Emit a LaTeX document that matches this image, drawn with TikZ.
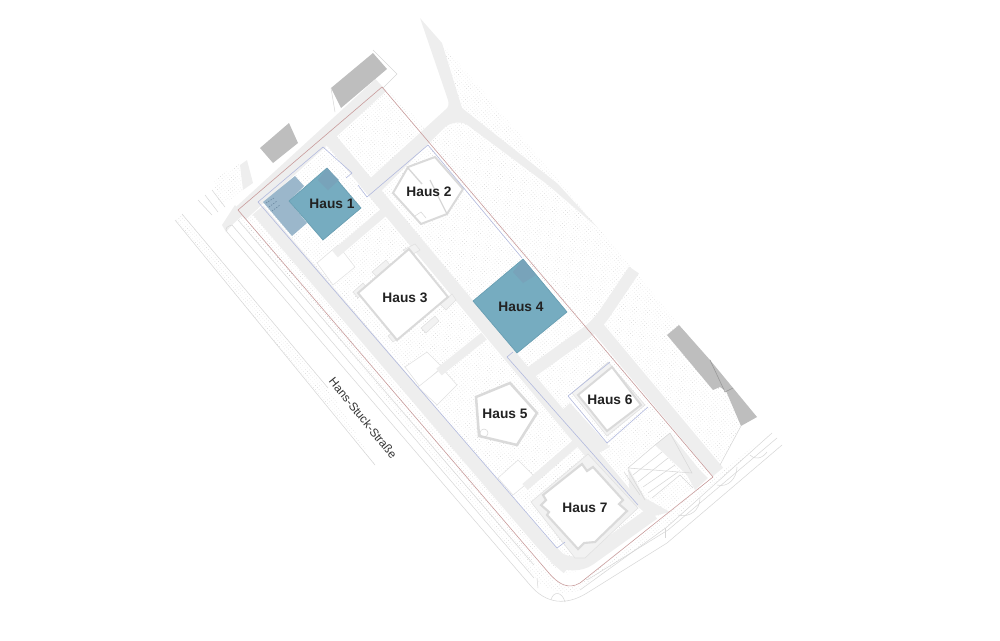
\documentclass[tikz,border=0pt]{standalone}
\usepackage{fontspec}
\setmainfont{Liberation Sans}
\usetikzlibrary{patterns.meta}
\tikzset{
  ground/.style={pattern={Dots[distance=2pt,radius=0.2pt,angle=40]},pattern color={rgb, 255:red, 185; green, 185; blue, 185 }},
  roadfill/.style={fill={rgb, 255:red, 238; green, 238; blue, 238 }},
  road/.style={draw={rgb, 255:red, 238; green, 238; blue, 238 }},
  thin line/.style={draw={rgb, 255:red, 215; green, 215; blue, 215 },line width=0.4pt},
  plot/.style={fill=white,draw={rgb, 255:red, 225; green, 225; blue, 225 },line width=0.4pt},
  red line/.style={draw={rgb, 255:red, 200; green, 155; blue, 155 },line width=0.45pt},
  blue line/.style={draw={rgb, 255:red, 178; green, 186; blue, 222 },line width=0.45pt},
  shed/.style={fill={rgb, 255:red, 190; green, 190; blue, 190 }},
  house/.style={fill=white,draw={rgb, 255:red, 218; green, 218; blue, 218 },line width=1.9pt},
  wing/.style={fill={rgb, 255:red, 242; green, 242; blue, 242 },draw={rgb, 255:red, 224; green, 224; blue, 224 },line width=0.4pt},
  teal/.style={fill={rgb, 255:red, 118; green, 172; blue, 192 },draw={rgb, 255:red, 104; green, 158; blue, 178 },line width=0.5pt},
  haus label/.style={font=\bfseries\fontsize{10.3pt}{12pt}\selectfont,text={rgb, 255:red, 34; green, 34; blue, 34 },inner sep=0.75pt},
}
\begin{document}
\begin{tikzpicture}[x=0.75pt,y=0.75pt,yscale=-1,xscale=1]
\useasboundingbox (0,0) rectangle (1000,640);

%Shape: site ground
\path [ground] (235,215) -- (384,87) -- (430,132) -- (450,107) -- (442,43) -- (598,228) -- (679,325) -- (757,417) -- (741,426) -- (720,465) -- (660,515) -- (570,575) -- (547,565) -- cycle;
\path [ground] (213,180) -- (240,163) -- (243,190) -- (220,207) -- cycle;
\path [ground] (175,220) -- (182,214) -- (328,388) -- (375,465) -- cycle;
\path [ground] (238,220) -- (245,218) -- (548,572) .. controls (558,584) and (568,590) .. (580,584) -- (713,477) -- (772,433) -- (667,527) -- (580,590) .. controls (565,598) and (548,590) .. (534,578) -- cycle;

%Shape: white plots
\draw [plot] (317,263) -- (338,245) -- (355,267) -- (333,285) -- cycle;
\draw [plot] (405,367) -- (427,352) -- (442,367) -- (420,387) -- cycle;
\draw [plot] (418,387) -- (442,368) -- (457,385) -- (437,405) -- cycle;
\draw [plot] (498,478) -- (518,460) -- (535,477) -- (513,495) -- cycle;
\fill [white] (628,468) -- (655,445) -- (682,476) -- (652,498) -- cycle;

%Shape: upper road
\fill [roadfill] (420,18) -- (442,43) -- (462,108) -- (558,184) -- (598,228) -- (548,185) -- (470,127) .. controls (462,120) and (452,122) .. (445,127) -- (375,197) -- (365,183) -- (445,110) .. controls (449,107) and (449,104) .. (448,100) -- cycle;
\fill [roadfill] (240,165) -- (247,160) -- (253,183) -- (243,190) -- cycle;

%Shape: roads
\draw [road,line width=12pt] (240,214) -- (381,85);
\draw [road,line width=10.5pt,rounded corners=16pt] (258,210) -- (552,554) -- (572,571) -- (653,513);
\draw [road,line width=10pt] (331,140) -- (522,370) -- (636,507);
\draw [road,line width=6.5pt] (390,207) -- (335,254);
\draw [road,line width=6.5pt] (484,336) -- (439,372);
\draw [road,line width=9pt,rounded corners=10pt] (634,270) -- (597,325) -- (527,375);
\draw [road,line width=10pt] (598,328) -- (718,472);
\draw [road,line width=6pt] (577,442) -- (525,487);
\fill [roadfill] (560,412) -- (570,403) -- (610,447) -- (595,455) -- cycle;
\fill [roadfill] (628,467) -- (645,498) -- (670,512) -- (650,517) -- (630,500) -- cycle;
\fill [roadfill] (655,445) -- (670,433) -- (698,468) -- (708,478) -- (695,490) -- (687,475) -- cycle;
\fill [roadfill] (226,232) -- (232,225) -- (243,215) -- (235,205) -- (222,225) -- cycle;

%Straight Lines: stairs
\draw [thin line] (628,468) -- (655,445) -- (670,433) -- (692,473) -- cycle;
\draw [thin line] (633,475) -- (662,452);
\draw [thin line] (638,482) -- (668,458);
\draw [thin line] (643,487) -- (675,465);
\draw [thin line] (648,493) -- (678,472);
\draw [thin line] (652,498) -- (680,475) -- (693,488);
\draw [thin line] (628,470) -- (645,500);
\draw [thin line] (624,472) -- (640,495);

%Straight Lines: street strips
\draw [thin line] (175,220) -- (375,465);
\draw [thin line] (182,214) -- (328,388);
\draw [thin line] (198,200) -- (212,215);
\draw [thin line] (205,195) -- (218,212);
\draw [thin line] (212,190) -- (225,207);
\draw [thin line] (232,225) -- (534,578);
\draw [thin line] (227,232) .. controls (224,228) and (228,226) .. (232,225);
\draw [thin line] (227,232) -- (530,585) .. controls (546,604) and (566,606) .. (587,593) -- (667,543) -- (782,445);
\draw [thin line] (238,220) -- (534,565);
\draw [thin line] (580,590) -- (667,527) -- (772,433);
\draw [thin line] (587,580) -- (668,530) -- (777,438);
\draw [thin line] (741,426) -- (720,465);
\draw [thin line] (737,467) .. controls (737,478) and (728,488) .. (717,485);
\draw [thin line] (700,498) .. controls (700,510) and (690,518) .. (678,515);
\draw [thin line] (750,455) .. controls (754,460) and (762,459) .. (767,452);
\draw [thin line] (551,600) .. controls (553,591) and (562,591) .. (565,602);
\draw [thin line] (537,578) -- (538,588);
\draw [thin line] (665,528) -- (665,538);

%Shape: sheds
\fill [shed] (373,53) -- (387,69) -- (341,108) -- (331,88) -- cycle;
\fill [shed] (289,123) -- (298,143) -- (273,163) -- (260,148) -- cycle;
\fill [shed] (667,335) -- (679,325) -- (710,360) -- (757,417) -- (741,426) -- (726,391) -- (720,387) -- (713,390) -- cycle;
\draw [thin line,draw={rgb, 255:red, 150; green, 150; blue, 150 }] (710,360) -- (725,392) -- (733,388);
\draw [thin line] (373,50) -- (397,74) -- (383,88);
\draw [thin line] (331,88) -- (335,112);

%Shape: Haus 7
\draw [wing] (531,502) -- (588,454) -- (638,508) -- (585,558) -- (575,558) -- cycle;
\draw [house,line width=1.6pt] (582,464) -- (587,471) -- (593,467) -- (623,500) -- (619,504) -- (627,511) -- (595,542) -- (584,543) -- (578,549) -- (547,515) -- (549,512) -- (541,505) -- (546,500) -- (543,495) -- cycle;

%Shape: Haus 6
\draw [wing] (608,362) -- (645,405) -- (607,436) -- (572,393) -- cycle;
\draw [house,line width=1.5pt] (612,367) -- (641,405) -- (607,431) -- (578,395) -- cycle;

%Shape: Haus 5
\draw [house] (476,397) -- (510,383) -- (537,413) -- (517,445) -- (479,436) -- cycle;
\draw [thin line] (484,433) circle [radius=4];

%Shape: Haus 3
\draw [wing] (353,292) -- (363,283) -- (368,289) -- (358,298) -- cycle;
\draw [wing] (393,342) -- (388,336) -- (395,330) -- (402,336) -- cycle;
\draw [wing] (403,250) -- (415,244) -- (420,250) -- (410,256) -- cycle;
\draw [wing] (440,304) -- (452,294) -- (456,300) -- (446,310) -- cycle;
\draw [wing] (421,328) -- (435,316) -- (439,321) -- (426,333) -- cycle;
\draw [wing] (372,272) -- (386,260) -- (390,265) -- (377,277) -- cycle;
\draw [house,line width=1.5pt] (409,249) -- (448,297) -- (397,340) -- (358,293) -- cycle;

%Shape: Haus 2
\draw [house,line width=1.5pt] (408,167) -- (435,157) -- (463,189) -- (447,214) -- (421,224) -- (393,193) -- cycle;
\draw [thin line,line width=1pt] (408,168) -- (422,184);
\draw [thin line,line width=1pt] (430,180) -- (447,214);
\draw [thin line] (415,216) -- (421,212) -- (426,218);

%Shape: Haus 1 and Haus 4
\draw [fill={rgb, 255:red, 155; green, 183; blue, 203 }] [draw=none] (263,202) -- (295,176) -- (304,186) -- (289,201) -- (307,223) -- (292,236) -- cycle;
\draw [draw={rgb, 255:red, 110; green, 140; blue, 165 },line width=0.5pt,dash pattern={on 1pt off 1pt}] (266,203) -- (274,198);
\draw [draw={rgb, 255:red, 110; green, 140; blue, 165 },line width=0.5pt,dash pattern={on 1pt off 1pt}] (269,207) -- (277,201);
\draw [draw={rgb, 255:red, 110; green, 140; blue, 165 },line width=0.5pt,dash pattern={on 1pt off 1pt}] (272,211) -- (280,205);
\draw [teal] (327,168) -- (361,208) -- (323,240) -- (289,201) -- cycle;
\fill [fill={rgb, 255:red, 120; green, 163; blue, 186 }] (318,180) -- (327,168) -- (339,180) -- (328,190) -- cycle;
\draw [teal] (523,259) -- (567,312) -- (517,353) -- (473,301) -- cycle;
\fill [fill={rgb, 255:red, 120; green, 163; blue, 186 }] (513,272) -- (523,259) -- (536,275) -- (523,283) -- cycle;

%Shape: boundary
\draw [red line] (238,210) -- (382,87) -- (713,477) -- (580,583) .. controls (568,590) and (558,584) .. (548,572) -- cycle;
\draw [blue line] (557,548) -- (258,202) -- (323,147) -- (352,173) -- (346,178);
\draw [blue line] (358,185) -- (367,197) -- (428,145) -- (522,258);
\draw [blue line] (513,352) -- (507,357) -- (638,505);
\draw [blue line] (557,548) -- (565,542);
\draw [blue line] (568,396) -- (607,443) -- (648,407);
\draw [blue line] (568,396) -- (610,362);

% Text Node
\node (haus1) [haus label] at (332,204) {Haus 1};
% Text Node
\node (haus2) [haus label] at (429,192) {Haus 2};
% Text Node
\node (haus3) [haus label] at (405,298) {Haus 3};
% Text Node
\node (haus4) [haus label] at (521,307) {Haus 4};
% Text Node
\node (haus5) [haus label] at (505,414) {Haus 5};
% Text Node
\node (haus6) [haus label] at (610,400) {Haus 6};
% Text Node
\node (haus7) [haus label] at (585,508) {Haus 7};
% Text Node
\node (strasse) [inner sep=0.75pt,rotate=-51,text={rgb, 255:red, 50; green, 50; blue, 50 },font=\fontsize{8.8pt}{11pt}\selectfont] at (363,418) {Hans-Stuck-Straße};
\end{tikzpicture}
\end{document}
